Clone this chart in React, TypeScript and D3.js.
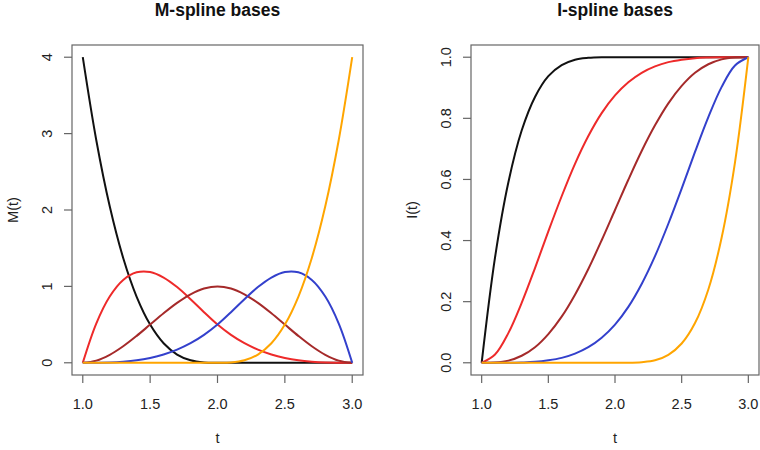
import React, { useRef, useEffect } from 'react';
import * as d3 from 'd3';

const width = 760;
const height = 450;

// t grid, shared by every basis
const tValues = [1.0, 1.1, 1.2, 1.3, 1.4, 1.5, 1.6, 1.7, 1.8, 1.9, 2.0, 2.1, 2.2, 2.3, 2.4, 2.5, 2.6, 2.7, 2.8, 2.9, 3.0];

// M-spline bases
const mBlack = [4, 2.916, 2.048, 1.372, 0.864, 0.5, 0.256, 0.108, 0.032, 0.004, 0, 0, 0, 0, 0, 0, 0, 0, 0, 0, 0];
const mRed = [0, 0.514, 0.868, 1.085, 1.184, 1.188, 1.116, 0.991, 0.832, 0.662, 0.5, 0.365, 0.256, 0.172, 0.108, 0.063, 0.032, 0.014, 0.004, 0.001, 0];
const mBrown = [0, 0.028, 0.104, 0.216, 0.352, 0.5, 0.648, 0.784, 0.896, 0.972, 1, 0.972, 0.896, 0.784, 0.648, 0.5, 0.352, 0.216, 0.104, 0.028, 0];
const mBlue = [0, 0.001, 0.004, 0.014, 0.032, 0.063, 0.108, 0.172, 0.256, 0.365, 0.5, 0.662, 0.832, 0.991, 1.116, 1.188, 1.184, 1.085, 0.868, 0.514, 0];
const mOrange = [0, 0, 0, 0, 0, 0, 0, 0, 0, 0, 0, 0.004, 0.032, 0.108, 0.256, 0.5, 0.864, 1.372, 2.048, 2.916, 4];

// I-spline bases (right panel)
const iBlack = [0, 0.344, 0.59, 0.76, 0.87, 0.938, 0.974, 0.992, 0.998, 1, 1, 1, 1, 1, 1, 1, 1, 1, 1, 1, 1];
const iRed = [0, 0.027, 0.097, 0.196, 0.31, 0.43, 0.545, 0.651, 0.742, 0.817, 0.875, 0.918, 0.949, 0.97, 0.984, 0.992, 0.997, 0.999, 1, 1, 1];
const iBrown = [0, 0.001, 0.007, 0.023, 0.051, 0.094, 0.151, 0.223, 0.307, 0.401, 0.5, 0.599, 0.693, 0.777, 0.849, 0.906, 0.949, 0.977, 0.993, 0.999, 1];
const iBlue = [0, 0, 0, 0.001, 0.003, 0.008, 0.016, 0.03, 0.051, 0.082, 0.125, 0.183, 0.258, 0.349, 0.455, 0.57, 0.69, 0.804, 0.903, 0.973, 1];
const iOrange = [0, 0, 0, 0, 0, 0, 0, 0, 0, 0, 0, 0, 0.002, 0.008, 0.026, 0.063, 0.13, 0.24, 0.41, 0.656, 1];

const colors = ['#111111', '#ee2a2a', '#a52a2a', '#3340cc', '#ffa500'];

const xTicks = ['1.0', '1.5', '2.0', '2.5', '3.0'];
const mTicks = ['0', '1', '2', '3', '4'];
const iTicks = ['0.0', '0.2', '0.4', '0.6', '0.8', '1.0'];

const font = '"Liberation Sans", Arial, sans-serif';

type Panel = {
    title: string;
    ylab: string;
    series: number[][];
    yTicks: string[];
    yMax: number;
    left: number;
    right: number;
};

const panels: Panel[] = [
    { title: 'M-spline bases', ylab: 'M(t)', series: [mBlack, mRed, mBrown, mBlue, mOrange], yTicks: mTicks, yMax: 4, left: 72, right: 363 },
    { title: 'I-spline bases', ylab: 'I(t)', series: [iBlack, iRed, iBrown, iBlue, iOrange], yTicks: iTicks, yMax: 1, left: 471, right: 759 },
];

export default function App() {
    const svgRef = useRef<SVGSVGElement>(null);

    useEffect(() => {
        if (!svgRef.current) return;
        const svg = d3.select(svgRef.current);
        svg.selectAll('*').remove();

        const top = 45;
        const bottom = 375;

        panels.forEach(p => {
            // R style 4% padding on both axes
            const x = d3.scaleLinear().domain([0.92, 3.08]).range([p.left, p.right]);
            const pad = p.yMax * 0.04;
            const y = d3.scaleLinear().domain([-pad, p.yMax + pad]).range([bottom, top]);
            const g = svg.append('g');

            const line = d3.line<number>()
                .x((_, i) => x(tValues[i]))
                .y(d => y(d))
                .curve(d3.curveCatmullRom);

            p.series.forEach((s, k) => {
                g.append('path')
                    .attr('d', line(s))
                    .attr('fill', 'none')
                    .attr('stroke', colors[k])
                    .attr('stroke-width', 2);
            });

            // box
            g.append('rect')
                .attr('x', p.left).attr('y', top)
                .attr('width', p.right - p.left).attr('height', bottom - top)
                .attr('fill', 'none').attr('stroke', '#666').attr('stroke-width', 1.2);

            // x axis
            xTicks.forEach(tk => {
                const xv = x(+tk);
                g.append('line').attr('x1', xv).attr('x2', xv).attr('y1', bottom).attr('y2', bottom + 8)
                    .attr('stroke', '#666').attr('stroke-width', 1.2);
                g.append('text').attr('x', xv).attr('y', 409).attr('text-anchor', 'middle')
                    .style('font-family', font).style('font-size', '14.5px').attr('fill', '#222').text(tk);
            });

            // y axis, labels parallel to the axis
            p.yTicks.forEach(tk => {
                const yv = y(+tk);
                g.append('line').attr('x1', p.left - 8).attr('x2', p.left).attr('y1', yv).attr('y2', yv)
                    .attr('stroke', '#666').attr('stroke-width', 1.2);
                const lx = p.left - 20;
                g.append('text').attr('transform', `translate(${lx},${yv}) rotate(-90)`).attr('text-anchor', 'middle')
                    .style('font-family', font).style('font-size', '14.5px').attr('fill', '#222').text(tk);
            });

            const cx = (p.left + p.right) / 2;
            g.append('text').attr('x', cx).attr('y', 16).attr('text-anchor', 'middle')
                .style('font-family', font).style('font-size', '17.5px').style('font-weight', 'bold')
                .attr('fill', '#111').text(p.title);
            g.append('text').attr('x', cx).attr('y', 443).attr('text-anchor', 'middle')
                .style('font-family', font).style('font-size', '14.5px').attr('fill', '#222').text('t');
            g.append('text').attr('transform', `translate(${p.left - 54},${(top + bottom) / 2}) rotate(-90)`)
                .attr('text-anchor', 'middle')
                .style('font-family', font).style('font-size', '14.5px').attr('fill', '#222').text(p.ylab);
        });
    }, []);

    return (
        <svg ref={svgRef} width={width} height={height}
            style={{ position: 'absolute', left: 0, top: 0, background: '#fff' }} />
    );
}
